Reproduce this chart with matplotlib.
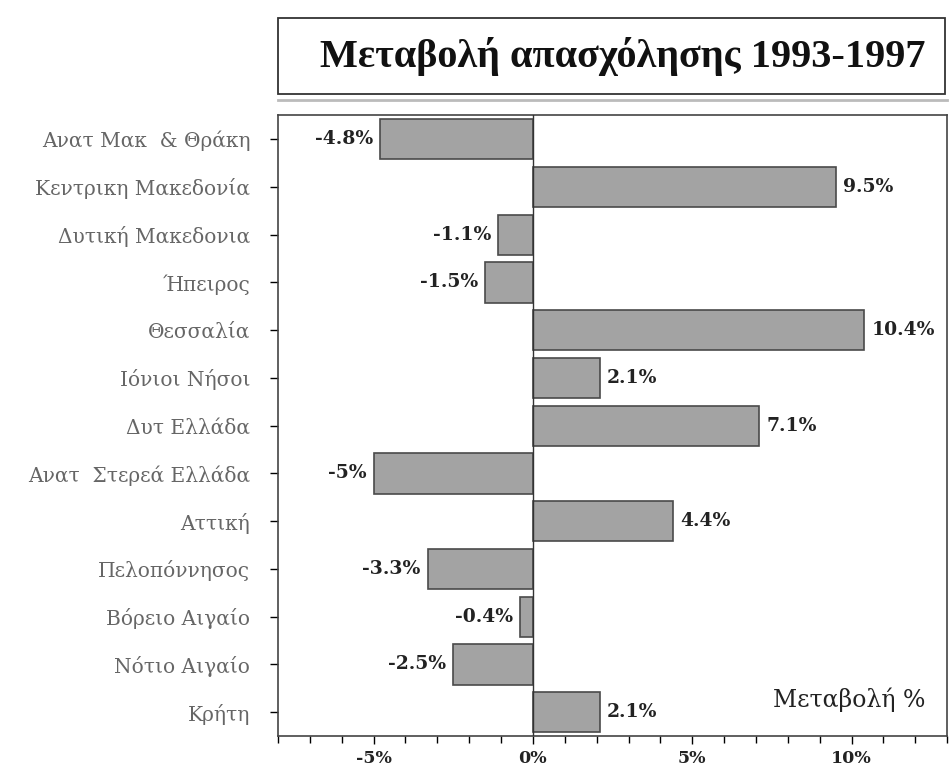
import matplotlib
matplotlib.use("Agg")
import matplotlib.pyplot as plt
from matplotlib.patches import Rectangle
from matplotlib.ticker import MultipleLocator, FuncFormatter

regions = ["Ανατ Μακ  & Θράκη", "Κεντρικη Μακεδονία", "Δυτική Μακεδονια", "Ήπειρος",
           "Θεσσαλία", "Ιόνιοι Νήσοι", "Δυτ Ελλάδα", "Ανατ  Στερεά Ελλάδα", "Αττική",
           "Πελοπόννησος", "Βόρειο Αιγαίο", "Νότιο Αιγαίο", "Κρήτη"]
changes = [-4.8, 9.5, -1.1, -1.5, 10.4, 2.1, 7.1, -5.0, 4.4, -3.3, -0.4, -2.5, 2.1]
value_labels = ["-4.8%", "9.5%", "-1.1%", "-1.5%", "10.4%", "2.1%", "7.1%", "-5%",
                "4.4%", "-3.3%", "-0.4%", "-2.5%", "2.1%"]
title = "Μεταβολή απασχόλησης 1993-1997"
xlabel = "Μεταβολή %"

serif = "Liberation Serif"
wide = "DejaVu Serif"

fig = plt.figure(figsize=(9.49, 7.74), dpi=100)
ax = fig.add_axes([0.293, 0.049, 0.705, 0.802])

ypos = list(range(len(regions)))
ax.barh(ypos, changes, height=0.84, color="#a3a3a3", edgecolor="#4a4a4a", linewidth=1.2)
ax.axvline(0, color="#333333", lw=1.0, zorder=3)

ax.set_ylim(len(regions) - 0.5, -0.5)
ax.set_xlim(-8, 13)
ax.set_yticks(ypos)
ax.set_yticklabels(regions, fontfamily=wide, fontsize=14.5, color="#666666")
ax.xaxis.set_major_locator(MultipleLocator(5))
ax.xaxis.set_minor_locator(MultipleLocator(1))
ax.xaxis.set_major_formatter(FuncFormatter(lambda v, p: f"{v:.0f}%"))
for lab in ax.get_xticklabels():
    lab.set_fontfamily(wide)
    lab.set_fontweight("bold")
    lab.set_fontsize(12.5)
    lab.set_color("#222222")
ax.tick_params(axis="x", which="major", length=6, width=1, pad=4)
ax.tick_params(axis="x", which="minor", length=5, width=1)
ax.tick_params(axis="y", length=6, width=1, pad=14)
for s in ax.spines.values():
    s.set_color("#444444")
    s.set_linewidth(1.2)

for y, v, t in zip(ypos, changes, value_labels):
    if v < 0:
        ax.annotate(t, (v, y), xytext=(-5, 0), textcoords="offset points",
                    ha="right", va="center", fontfamily=wide, fontweight="bold",
                    fontsize=13.5, color="#222222")
    else:
        ax.annotate(t, (v, y), xytext=(5, 0), textcoords="offset points",
                    ha="left", va="center", fontfamily=wide, fontweight="bold",
                    fontsize=13.5, color="#222222")

ax.text(0.968, 0.058, xlabel, transform=ax.transAxes, ha="right", va="center",
        fontfamily=wide, fontsize=17, color="#222222")

# Title box
fig.patches.append(Rectangle((0.293, 0.8786), 0.703, 0.098, transform=fig.transFigure,
                             facecolor="white", edgecolor="#333333", linewidth=1.3))
fig.add_artist(plt.Line2D([0.293, 0.998], [0.871, 0.871], transform=fig.transFigure,
                          color="#bbbbbb", lw=2))
fig.text(0.656, 0.9275, title, ha="center", va="center", fontfamily=serif,
         fontweight="bold", fontsize=29, color="#111111")

fig.savefig("out.png", dpi=100)
